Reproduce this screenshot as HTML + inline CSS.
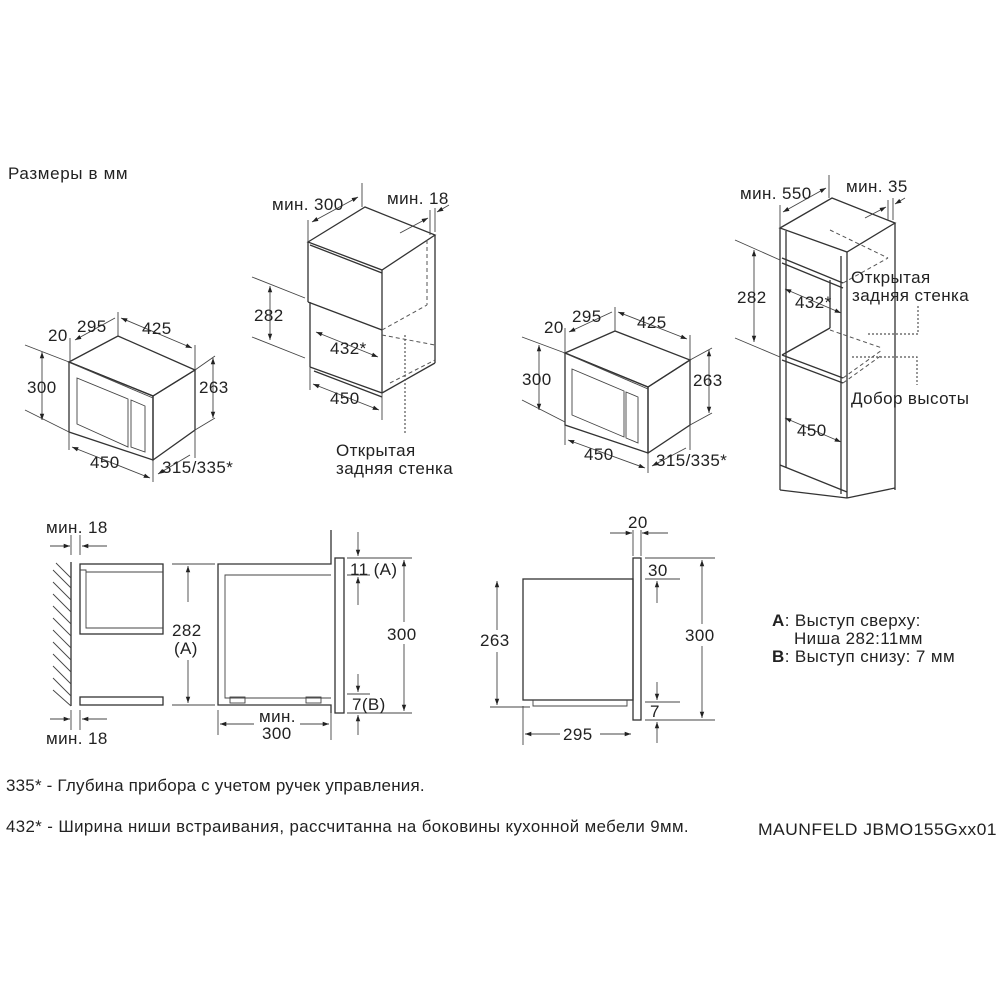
<!DOCTYPE html>
<html><head><meta charset="utf-8"><style>
html,body{margin:0;padding:0;background:#fff}
svg{display:block}
text{font-family:"Liberation Sans",Arial,sans-serif;font-size:17px;letter-spacing:0.4px;fill:#222}
.l{stroke:#333;stroke-width:1.3;fill:none}
.t{stroke:#444;stroke-width:0.9;fill:none}
.d{stroke:#555;stroke-width:1;fill:none;stroke-dasharray:4 3}
.o{stroke:#555;stroke-width:1.2;fill:none;stroke-dasharray:2 2}
</style></head><body>
<svg width="1000" height="1000" viewBox="0 0 1000 1000">
<defs><marker id="a" viewBox="0 0 10 10" refX="10" refY="5" markerWidth="7" markerHeight="7" orient="auto-start-reverse"><path d="M0,1.5 L10,5 L0,8.5z" fill="#222"/></marker></defs>
<text x="8" y="179" textLength="120">Размеры в мм</text>

<g>
<polygon class="l" points="69,362 153,396 153,460 69,432"/>
<polygon class="l" points="69,362 118,336 195,370 153,396"/>
<polygon class="l" points="153,396 195,370 195,430 153,460"/>
<polygon class="t" points="77,378 128,399 128,447 77,424"/>
<polygon class="t" points="131,400 145,406 145,452 131,447"/>
<line class="t" x1="73" y1="364" x2="153" y2="398"/>
<line class="t" x1="25" y1="345" x2="69" y2="362"/><line class="t" x1="25" y1="410" x2="69" y2="432"/>
<line class="t" x1="42" y1="352" x2="42" y2="420" marker-start="url(#a)" marker-end="url(#a)"/>
<text x="27" y="393">300</text>
<line class="t" x1="195" y1="370" x2="215" y2="356"/><line class="t" x1="195" y1="430" x2="215" y2="418"/>
<line class="t" x1="213" y1="358" x2="213" y2="418" marker-start="url(#a)" marker-end="url(#a)"/>
<text x="199" y="393">263</text>
<line class="t" x1="69" y1="432" x2="69" y2="450"/><line class="t" x1="153" y1="460" x2="153" y2="482"/>
<line class="t" x1="72" y1="447" x2="150" y2="478" marker-start="url(#a)" marker-end="url(#a)"/>
<text x="90" y="468">450</text>
<line class="t" x1="195" y1="430" x2="195" y2="458"/>
<line class="t" x1="158" y1="474" x2="190" y2="455" marker-start="url(#a)"/>
<text x="162" y="473">315/335*</text>
<line class="t" x1="118" y1="336" x2="118" y2="312"/><line class="t" x1="195" y1="370" x2="195" y2="345"/>
<line class="t" x1="121" y1="318" x2="192" y2="348" marker-start="url(#a)" marker-end="url(#a)"/>
<text x="142" y="334">425</text>
<line class="t" x1="70" y1="362" x2="70" y2="338"/>
<line class="t" x1="75" y1="340" x2="115" y2="318" marker-start="url(#a)"/>
<text x="77" y="332">295</text><text x="48" y="341">20</text>
</g>

<g>
<polygon class="l" points="308,242 365,207 435,235 382,270"/>
<line class="l" x1="308" y1="242" x2="308" y2="302"/>
<line class="l" x1="308" y1="302" x2="382" y2="330"/>
<line class="l" x1="382" y1="270" x2="382" y2="393"/>
<line class="l" x1="310" y1="302" x2="310" y2="367"/>
<line class="l" x1="310" y1="367" x2="382" y2="393"/>
<line class="l" x1="314" y1="371" x2="382" y2="397"/>
<line class="l" x1="435" y1="235" x2="435" y2="363"/>
<line class="l" x1="382" y1="393" x2="435" y2="363"/>
<line class="l" x1="310" y1="245" x2="382" y2="273"/>
<line class="d" x1="427" y1="240" x2="427" y2="305"/>
<line class="d" x1="382" y1="330" x2="427" y2="305"/>
<line class="d" x1="382" y1="335" x2="435" y2="345"/>
<line class="d" x1="390" y1="383" x2="435" y2="360"/>
<line class="o" x1="405" y1="335" x2="405" y2="435"/>
<text x="336" y="456">Открытая</text><text x="336" y="474">задняя стенка</text>
<line class="t" x1="252" y1="277" x2="305" y2="298"/><line class="t" x1="252" y1="337" x2="305" y2="358"/>
<line class="t" x1="270" y1="286" x2="270" y2="340" marker-start="url(#a)" marker-end="url(#a)"/>
<text x="254" y="321">282</text>
<line class="t" x1="316" y1="332" x2="378" y2="357" marker-start="url(#a)" marker-end="url(#a)"/>
<text x="330" y="354">432*</text>
<line class="t" x1="310" y1="367" x2="310" y2="390"/><line class="t" x1="382" y1="393" x2="382" y2="420"/>
<line class="t" x1="313" y1="384" x2="379" y2="410" marker-start="url(#a)" marker-end="url(#a)"/>
<text x="330" y="404">450</text>
<line class="t" x1="308" y1="242" x2="308" y2="220"/><line class="t" x1="362" y1="207" x2="362" y2="183"/>
<line class="t" x1="312" y1="222" x2="358" y2="197" marker-start="url(#a)" marker-end="url(#a)"/>
<text x="272" y="210">мин. 300</text>
<line class="t" x1="430" y1="235" x2="430" y2="210"/><line class="t" x1="435" y1="232" x2="435" y2="208"/>
<line class="t" x1="400" y1="233" x2="428" y2="218" marker-end="url(#a)"/>
<line class="t" x1="449" y1="205" x2="437" y2="212" marker-end="url(#a)"/>
<text x="387" y="204">мин. 18</text>
</g>

<g>
<polygon class="l" points="565,353 648,387 648,453 565,425"/>
<polygon class="l" points="565,353 615,331 690,360 648,387"/>
<polygon class="l" points="648,387 690,360 690,425 648,453"/>
<polygon class="t" points="572,369 624,391 624,437 572,415"/>
<polygon class="t" points="626,392 638,397 638,443 626,438"/>
<line class="t" x1="569" y1="355" x2="648" y2="389"/>
<line class="t" x1="522" y1="337" x2="565" y2="353"/><line class="t" x1="522" y1="400" x2="565" y2="422"/>
<line class="t" x1="539" y1="345" x2="539" y2="410" marker-start="url(#a)" marker-end="url(#a)"/>
<text x="522" y="385">300</text>
<line class="t" x1="690" y1="360" x2="712" y2="348"/><line class="t" x1="690" y1="425" x2="712" y2="413"/>
<line class="t" x1="709" y1="350" x2="709" y2="413" marker-start="url(#a)" marker-end="url(#a)"/>
<text x="693" y="386">263</text>
<line class="t" x1="565" y1="425" x2="565" y2="445"/><line class="t" x1="648" y1="453" x2="648" y2="473"/>
<line class="t" x1="568" y1="440" x2="645" y2="468" marker-start="url(#a)" marker-end="url(#a)"/>
<text x="584" y="460">450</text>
<line class="t" x1="690" y1="425" x2="690" y2="450"/>
<line class="t" x1="652" y1="466" x2="686" y2="448" marker-start="url(#a)"/>
<text x="656" y="466">315/335*</text>
<line class="t" x1="615" y1="331" x2="615" y2="307"/><line class="t" x1="690" y1="360" x2="690" y2="335"/>
<line class="t" x1="618" y1="312" x2="687" y2="339" marker-start="url(#a)" marker-end="url(#a)"/>
<text x="637" y="328">425</text>
<line class="t" x1="565" y1="353" x2="565" y2="328"/>
<line class="t" x1="569" y1="332" x2="612" y2="312" marker-start="url(#a)"/>
<text x="572" y="322">295</text><text x="544" y="333">20</text>
</g>

<g>
<polygon class="l" points="780,228 832,198 895,223 847,252"/>
<line class="l" x1="780" y1="228" x2="780" y2="490"/>
<line class="l" x1="786" y1="231" x2="786" y2="468"/>
<line class="l" x1="847" y1="252" x2="847" y2="498"/>
<line class="l" x1="841" y1="256" x2="841" y2="494"/>
<line class="l" x1="895" y1="223" x2="895" y2="490"/>
<line class="l" x1="847" y1="498" x2="895" y2="488"/>
<line class="l" x1="780" y1="490" x2="847" y2="498"/>
<line class="l" x1="780" y1="465" x2="847" y2="492"/>
<line class="l" x1="782" y1="258" x2="843" y2="283"/><line class="l" x1="782" y1="263" x2="843" y2="288"/>
<line class="l" x1="782" y1="355" x2="843" y2="378"/><line class="l" x1="782" y1="360" x2="843" y2="383"/>
<line class="l" x1="782" y1="355" x2="830" y2="328"/>
<line class="l" x1="830" y1="328" x2="830" y2="280"/>
<line class="d" x1="830" y1="230" x2="888" y2="258"/><line class="d" x1="843" y1="283" x2="888" y2="258"/>
<line class="d" x1="830" y1="330" x2="882" y2="348"/><line class="d" x1="843" y1="378" x2="882" y2="350"/>
<line class="d" x1="843" y1="383" x2="882" y2="355"/>
<text x="851" y="283">Открытая</text><text x="852" y="301">задняя стенка</text>
<polyline class="o" points="868,334 918,334 918,306"/>
<polyline class="o" points="852,357 917,357 917,385"/>
<text x="851" y="404">Добор высоты</text>
<line class="t" x1="735" y1="240" x2="780" y2="260"/><line class="t" x1="735" y1="338" x2="780" y2="357"/>
<line class="t" x1="754" y1="250" x2="754" y2="342" marker-start="url(#a)" marker-end="url(#a)"/>
<text x="737" y="303">282</text>
<line class="t" x1="785" y1="289" x2="841" y2="313" marker-start="url(#a)" marker-end="url(#a)"/>
<text x="795" y="308">432*</text>
<line class="t" x1="785" y1="418" x2="841" y2="442" marker-start="url(#a)" marker-end="url(#a)"/>
<text x="797" y="436">450</text>
<line class="t" x1="780" y1="228" x2="780" y2="205"/><line class="t" x1="829" y1="198" x2="829" y2="175"/>
<line class="t" x1="783" y1="212" x2="826" y2="188" marker-start="url(#a)" marker-end="url(#a)"/>
<text x="740" y="199">мин. 550</text>
<line class="t" x1="888" y1="220" x2="888" y2="200"/><line class="t" x1="893" y1="220" x2="893" y2="198"/>
<line class="t" x1="865" y1="218" x2="886" y2="207" marker-end="url(#a)"/>
<line class="t" x1="905" y1="198" x2="895" y2="204" marker-end="url(#a)"/>
<text x="846" y="192">мин. 35</text>
</g>

<g>
<line class="l" x1="71" y1="562" x2="71" y2="706"/>
<g class="t">
<line x1="53" y1="570" x2="71" y2="588"/><line x1="53" y1="582" x2="71" y2="600"/><line x1="53" y1="594" x2="71" y2="612"/><line x1="53" y1="606" x2="71" y2="624"/><line x1="53" y1="618" x2="71" y2="636"/><line x1="53" y1="630" x2="71" y2="648"/><line x1="53" y1="642" x2="71" y2="660"/><line x1="53" y1="654" x2="71" y2="672"/><line x1="53" y1="666" x2="71" y2="684"/><line x1="53" y1="678" x2="71" y2="696"/><line x1="53" y1="690" x2="71" y2="706"/><line x1="56" y1="563" x2="71" y2="578"/>
</g>
<rect class="l" x="80" y="564" width="83" height="70"/>
<polyline class="t" points="80,570 86,570 86,628 163,628"/><line class="t" x1="86" y1="572" x2="163" y2="572"/>
<rect class="l" x="80" y="697" width="83" height="8"/>
<line class="t" x1="71" y1="535" x2="71" y2="555"/><line class="t" x1="80" y1="535" x2="80" y2="555"/>
<line class="t" x1="50" y1="546" x2="70" y2="546" marker-end="url(#a)"/><line class="t" x1="107" y1="546" x2="82" y2="546" marker-end="url(#a)"/>
<text x="46" y="533">мин. 18</text>
<line class="t" x1="71" y1="710" x2="71" y2="730"/><line class="t" x1="80" y1="710" x2="80" y2="730"/>
<line class="t" x1="50" y1="719" x2="70" y2="719" marker-end="url(#a)"/><line class="t" x1="107" y1="719" x2="82" y2="719" marker-end="url(#a)"/>
<text x="46" y="744">мин. 18</text>
<line class="t" x1="172" y1="564" x2="215" y2="564"/><line class="t" x1="172" y1="705" x2="215" y2="705"/>
<line class="t" x1="188" y1="566" x2="188" y2="602" marker-start="url(#a)"/><line class="t" x1="188" y1="660" x2="188" y2="703" marker-end="url(#a)"/>
<text x="172" y="636">282</text><text x="174" y="654">(A)</text>
<polyline class="l" points="331,530 331,564 218,564 218,705 331,705 331,713"/>
<polyline class="t" points="331,575 225,575 225,698 331,698"/>
<rect class="t" x="230" y="697" width="15" height="6"/><rect class="t" x="306" y="697" width="15" height="6"/>
<rect class="l" x="335" y="558" width="9" height="155"/>
<line class="t" x1="218" y1="710" x2="218" y2="735"/><line class="t" x1="331" y1="713" x2="331" y2="740"/>
<line class="t" x1="254" y1="724" x2="220" y2="724" marker-end="url(#a)"/><line class="t" x1="300" y1="724" x2="329" y2="724" marker-end="url(#a)"/>
<text x="259" y="722">мин.</text><text x="262" y="739">300</text>
<line class="t" x1="347" y1="558" x2="412" y2="558"/><line class="t" x1="347" y1="713" x2="412" y2="713"/>
<line class="t" x1="347" y1="575" x2="370" y2="575"/><line class="t" x1="347" y1="694" x2="370" y2="694"/>
<line class="t" x1="358" y1="532" x2="358" y2="556" marker-end="url(#a)"/><line class="t" x1="358" y1="605" x2="358" y2="577" marker-end="url(#a)"/>
<line class="t" x1="358" y1="674" x2="358" y2="692" marker-end="url(#a)"/><line class="t" x1="358" y1="735" x2="358" y2="715" marker-end="url(#a)"/>
<text x="350" y="575">11 (A)</text><text x="352" y="710">7(B)</text>
<line class="t" x1="404" y1="560" x2="404" y2="711" marker-start="url(#a)" marker-end="url(#a)"/>
<rect x="385" y="622" width="38" height="22" fill="#fff"/>
<text x="387" y="640">300</text>
</g>

<g>
<rect class="l" x="523" y="579" width="110" height="121"/>
<polyline class="t" points="533,700 533,706 627,706 627,700"/>
<rect class="l" x="633" y="558" width="8" height="162"/>
<line class="t" x1="633" y1="530" x2="633" y2="556"/><line class="t" x1="641" y1="530" x2="641" y2="556"/>
<line class="t" x1="610" y1="533" x2="632" y2="533" marker-end="url(#a)"/><line class="t" x1="668" y1="533" x2="642" y2="533" marker-end="url(#a)"/>
<text x="628" y="528">20</text>
<line class="t" x1="490" y1="707" x2="530" y2="707"/>
<line class="t" x1="497" y1="581" x2="497" y2="705" marker-start="url(#a)" marker-end="url(#a)"/>
<rect x="478" y="630" width="40" height="22" fill="#fff"/><text x="480" y="646">263</text>
<line class="t" x1="523" y1="706" x2="523" y2="745"/>
<line class="t" x1="525" y1="734" x2="631" y2="734" marker-start="url(#a)" marker-end="url(#a)"/>
<rect x="560" y="722" width="40" height="20" fill="#fff"/><text x="563" y="740">295</text>
<line class="t" x1="645" y1="558" x2="715" y2="558"/><line class="t" x1="645" y1="720" x2="715" y2="720"/>
<line class="t" x1="645" y1="579" x2="680" y2="579"/><line class="t" x1="645" y1="702" x2="680" y2="702"/>
<line class="t" x1="657" y1="603" x2="657" y2="581" marker-end="url(#a)"/>
<line class="t" x1="657" y1="682" x2="657" y2="700" marker-end="url(#a)"/><line class="t" x1="657" y1="743" x2="657" y2="722" marker-end="url(#a)"/>
<text x="648" y="576">30</text><text x="650" y="717">7</text>
<line class="t" x1="702" y1="560" x2="702" y2="718" marker-start="url(#a)" marker-end="url(#a)"/>
<rect x="682" y="624" width="40" height="22" fill="#fff"/><text x="685" y="641">300</text>
<text x="772" y="626"><tspan font-weight="bold">A</tspan>: Выступ сверху:</text>
<text x="794" y="644">Ниша 282:11мм</text>
<text x="772" y="662"><tspan font-weight="bold">B</tspan>: Выступ снизу: 7 мм</text>
</g>

<text x="6" y="791" textLength="419">335* - Глубина прибора с учетом ручек управления.</text>
<text x="6" y="832" textLength="683" lengthAdjust="spacingAndGlyphs">432* - Ширина ниши встраивания, рассчитанна на боковины кухонной мебели 9мм.</text>
<text x="758" y="835" textLength="239" lengthAdjust="spacingAndGlyphs">MAUNFELD JBMO155Gxx01</text>
</svg>
</body></html>
